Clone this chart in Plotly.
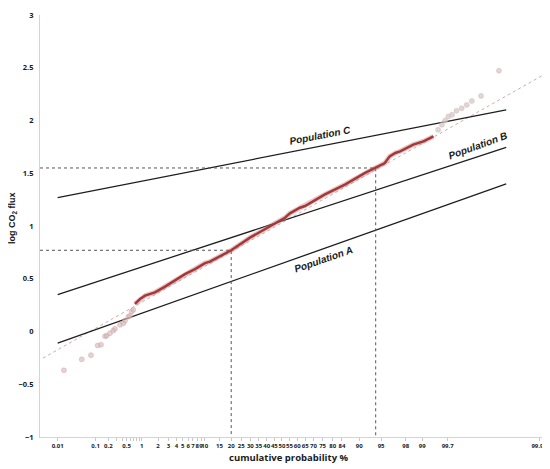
import plotly.graph_objects as go
from statistics import NormalDist

_nd = NormalDist()


def probit(p_percent):
    return _nd.inv_cdf(p_percent / 100.0)


# ---------------- data (cumulative probability %, log CO2 flux) ----------------
low_tail_prob = [0.015, 0.045, 0.077, 0.112, 0.135, 0.167, 0.183, 0.217, 0.258, 0.281,
                 0.362, 0.426, 0.462, 0.542, 0.587, 0.635, 0.685]
low_tail_val = [-0.368, -0.264, -0.224, -0.132, -0.125, -0.045, -0.040, -0.016, 0.009, 0.025,
                0.063, 0.078, 0.104, 0.140, 0.150, 0.190, 0.205]

core_prob = [0.74, 0.93, 1.16, 1.76, 2.63, 3.80, 5.39, 7.47, 10.1, 11.6, 20.0, 29.8, 42.2,
             52.0, 55.3, 61.7, 64.9, 76.2, 85.2, 91.6, 93.9, 95.6, 96.3, 97.0, 97.5, 98.53,
             99.05, 99.40]
core_val = [0.261, 0.308, 0.340, 0.371, 0.425, 0.481, 0.544, 0.592, 0.648, 0.662, 0.770,
            0.890, 1.000, 1.078, 1.120, 1.173, 1.189, 1.299, 1.393, 1.503, 1.550, 1.597,
            1.660, 1.692, 1.708, 1.771, 1.802, 1.849]

high_tail_prob = [99.52, 99.60, 99.66, 99.71, 99.76, 99.81, 99.856, 99.891, 99.918, 99.952, 99.984]
high_tail_val = [1.912, 1.959, 2.000, 2.038, 2.054, 2.092, 2.116, 2.148, 2.186, 2.233, 2.472]

fit_prob = [0.0037, 99.9992]
fit_val = [-0.252, 2.425]

pop_prob = [0.01, 99.99]
pop_a = [-0.11, 1.40]
pop_b = [0.35, 1.745]
pop_c = [1.27, 2.10]

ref_low = (20.0, 0.77)     # (probability %, log flux)
ref_high = (94.0, 1.55)

x_tick_prob = [0.01, 0.1, 0.2, 0.5, 1, 2, 3, 4, 5, 6, 7, 8, 9, 10,
               15, 20, 25, 30, 35, 40, 45, 50, 55, 60, 65, 70, 75, 80, 84, 90, 95, 98, 99,
               99.7, 99.999]
x_tick_text = ["0.01", "0.1", "0.2", "0.5", "1", "2", "3", "4", "5",
               "6", "7", "8", "9", "10", "15", "20", "25", "30", "35", "40", "45", "50", "55",
               "60", "65", "70", "75", "80", "84", "90", "95", "98", "99", "99.7", "99.99"]
x_minor_prob = [0.3, 0.4, 0.6, 0.7, 0.8, 0.9]
y_tick_vals = [-1, -0.5, 0, 0.5, 1, 1.5, 2, 2.5, 3]

# ---------------- figure ----------------
X_MIN, X_MAX = -4.012, 4.412
Y_MIN, Y_MAX = -1, 3

zl = lambda ps: [probit(p) for p in ps]

fig = go.Figure()

# fitted line (thin dotted)
fig.add_trace(go.Scatter(x=zl(fit_prob), y=fit_val, mode="lines",
                         line=dict(color="rgba(205,160,160,0.9)", width=1, dash="dot"),
                         hoverinfo="skip", showlegend=False))

# population lines
for vals in (pop_a, pop_b, pop_c):
    fig.add_trace(go.Scatter(x=zl(pop_prob), y=vals, mode="lines",
                             line=dict(color="#1e1e1e", width=1.3),
                             hoverinfo="skip", showlegend=False))

# reference dotted lines
for p, v in (ref_low, ref_high):
    fig.add_trace(go.Scatter(x=[X_MIN, probit(p), probit(p)], y=[v, v, Y_MIN], mode="lines",
                             line=dict(color="#555555", width=1, dash="dot"),
                             hoverinfo="skip", showlegend=False))

# tails as individual points
fig.add_trace(go.Scatter(x=zl(low_tail_prob), y=low_tail_val, mode="markers",
                         marker=dict(size=5, color="rgba(215,180,180,0.6)",
                                     line=dict(width=0.6, color="rgba(195,150,150,0.6)")),
                         hoverinfo="skip", showlegend=False))
fig.add_trace(go.Scatter(x=zl(high_tail_prob), y=high_tail_val, mode="markers",
                         marker=dict(size=5, color="rgba(215,200,200,0.75)",
                                     line=dict(width=0.6, color="rgba(200,180,180,0.7)")),
                         hoverinfo="skip", showlegend=False))

# dense central body of the sample
fig.add_trace(go.Scatter(x=zl(core_prob), y=core_val, mode="lines",
                         line=dict(color="rgba(200,120,120,0.4)", width=5),
                         hoverinfo="skip", showlegend=False))
fig.add_trace(go.Scatter(x=zl(core_prob), y=core_val, mode="lines",
                         line=dict(color="#a3393a", width=2.5),
                         hoverinfo="skip", showlegend=False))

label_font = dict(family="Liberation Sans, Arial, sans-serif", size=10, color="#1a1a1a")
annotations = [
    dict(x=0.631, y=1.858, xref="x", yref="y", text="<b><i>Population C</i></b>",
         showarrow=False, textangle=-11, font=label_font),
    dict(x=3.252, y=1.764, xref="x", yref="y", text="<b><i>Population B</i></b>",
         showarrow=False, textangle=-20, font=label_font),
    dict(x=0.681, y=0.679, xref="x", yref="y", text="<b><i>Population A</i></b>",
         showarrow=False, textangle=-19, font=label_font),
    dict(x=0.49, y=0.0, xref="paper", yref="paper", yshift=-20,
         text="<b>cumulative probability %</b>",
         showarrow=False, xanchor="center", yanchor="middle",
         font=dict(family="Open Sans, Liberation Sans, sans-serif", size=9.5, color="#1a1a1a")),
    dict(x=0, y=0.5, xref="paper", yref="paper", xshift=-28, yshift=8,
         text="<b>log CO<sub>2</sub> flux</b>",
         showarrow=False, textangle=-90, xanchor="center", yanchor="middle",
         font=dict(family="Liberation Sans, Arial, sans-serif", size=9, color="#1a1a1a")),
]

# the page body adds an 8px offset, so the figure is sized/margined to compensate
fig.update_layout(
    width=542, height=461,
    margin=dict(l=32, r=2, t=5, b=32),
    paper_bgcolor="white", plot_bgcolor="white",
    showlegend=False,
    annotations=annotations,
    xaxis=dict(range=[X_MIN, X_MAX], tickmode="array", tickvals=zl(x_tick_prob),
               ticktext=x_tick_text, showgrid=False, zeroline=False,
               showline=True, linecolor="#d4d4d4", linewidth=1,
               ticks="outside", ticklen=3, tickcolor="#c8c8c8", tickangle=0,
               ticklabeloverflow="allow",
               tickfont=dict(family="Open Sans, Liberation Sans, sans-serif", size=6,
                             color="#1a1a1a", weight="bold"),
               minor=dict(tickmode="array", tickvals=zl(x_minor_prob), ticks="outside",
                          ticklen=3, tickcolor="#c8c8c8", showgrid=False),
               fixedrange=True),
    yaxis=dict(range=[Y_MIN, Y_MAX], tickmode="array", tickvals=y_tick_vals,
               showgrid=False, zeroline=False, showline=True, linecolor="#d4d4d4",
               linewidth=1, ticks="", ticklabelstandoff=4, ticklabeloverflow="allow",
               tickfont=dict(family="Open Sans, Liberation Sans, sans-serif", size=7.5,
                             color="#1a1a1a", weight="bold"),
               tickformat=".1~f", fixedrange=True),
)

fig.write_html("out.html")
